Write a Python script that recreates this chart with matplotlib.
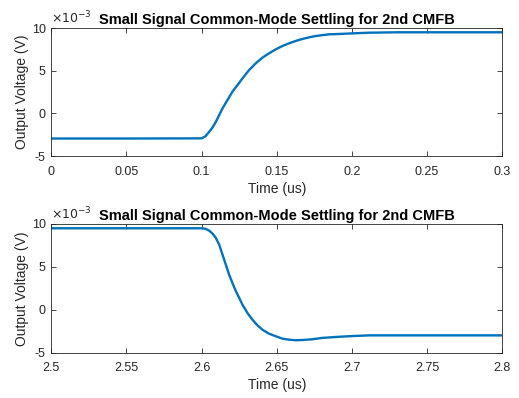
import matplotlib
matplotlib.use("Agg")
import matplotlib.pyplot as plt

plt.rcParams['font.family'] = ['Liberation Sans', 'DejaVu Sans']

# Data (values in mV, i.e. x10^-3 V)
t_rise = [0.0, 0.05, 0.1, 0.10245, 0.1051, 0.1073, 0.1095, 0.1117, 0.1139, 0.1172,
          0.1205, 0.1239, 0.1272, 0.1316, 0.136, 0.1404, 0.1448, 0.1493, 0.1537,
          0.1581, 0.1625, 0.1669, 0.1713, 0.1757, 0.1846, 0.1912, 0.2, 0.211,
          0.23, 0.25, 0.3]
v_rise = [-2.95, -2.95, -2.93, -2.70, -2.15, -1.64, -0.98, -0.20, 0.58, 1.56,
          2.54, 3.32, 4.1, 5.08, 5.86, 6.52, 7.03, 7.5, 7.89,
          8.2, 8.48, 8.71, 8.9, 9.06, 9.26, 9.30, 9.37, 9.45,
          9.5, 9.5, 9.5]

t_fall = [2.5, 2.55, 2.6, 2.6024, 2.6051, 2.6073, 2.6095, 2.6117, 2.6139, 2.6161,
          2.6183, 2.6205, 2.6228, 2.625, 2.6272, 2.6305, 2.6338, 2.6371, 2.6404,
          2.6448, 2.6493, 2.6537, 2.6581, 2.6625, 2.667, 2.6735, 2.6801, 2.689,
          2.6978, 2.711, 2.75, 2.8]
v_fall = [9.5, 9.5, 9.5, 9.45, 9.22, 8.87, 8.37, 7.59, 6.42, 5.25,
          4.08, 3.12, 2.15, 1.37, 0.58, -0.39, -1.17, -1.82, -2.33,
          -2.8, -3.1, -3.38, -3.5, -3.57, -3.54, -3.46, -3.3, -3.19,
          -3.1, -3.0, -3.0, -3.0]

xticks_top = [0, 0.05, 0.1, 0.15, 0.2, 0.25, 0.3]
xticklabels_top = ['0', '0.05', '0.1', '0.15', '0.2', '0.25', '0.3']
xticks_bot = [2.5, 2.55, 2.6, 2.65, 2.7, 2.75, 2.8]
xticklabels_bot = ['2.5', '2.55', '2.6', '2.65', '2.7', '2.75', '2.8']
yticks = [-5, 0, 5, 10]
yticklabels = ['-5', '0', '5', '10']

title = 'Small Signal Common-Mode Settling for 2nd CMFB'
line_color = '#0072BD'
grey = '#262626'

fig = plt.figure(figsize=(5.19, 3.98), dpi=100)
ax1 = fig.add_axes([0.0988, 0.608, 0.869, 0.3216])
ax2 = fig.add_axes([0.0988, 0.1143, 0.869, 0.3229])

for ax, t, v, xt, xtl, xlim in [
    (ax1, t_rise, v_rise, xticks_top, xticklabels_top, (0, 0.3)),
    (ax2, t_fall, v_fall, xticks_bot, xticklabels_bot, (2.5, 2.8)),
]:
    ax.plot(t, v, color=line_color, linewidth=1.7, solid_joinstyle='round')
    ax.set_xlim(*xlim)
    ax.set_ylim(-5, 10)
    ax.set_xticks(xt)
    ax.set_xticklabels(xtl)
    ax.set_yticks(yticks)
    ax.set_yticklabels(yticklabels)
    ax.tick_params(direction='in', top=True, right=True, length=3.5, width=0.6,
                   colors=grey, labelsize=9)
    ax.tick_params(axis='x', pad=7)
    ax.tick_params(axis='y', pad=4)
    for s in ax.spines.values():
        s.set_color(grey)
        s.set_linewidth(0.6)
    ax.set_xlabel('Time (us)', fontsize=10, color=grey, labelpad=3)
    ax.set_ylabel('Output Voltage (V)', fontsize=10, color=grey, labelpad=2)
    ax.set_title(title, fontsize=10.5, fontweight='bold', color='black', pad=3)
    ax.text(0.0, 1.01, r'$\times10^{-3}$', transform=ax.transAxes, fontsize=9,
            color=grey, ha='left', va='bottom')

fig.savefig('out.png', dpi=100)
